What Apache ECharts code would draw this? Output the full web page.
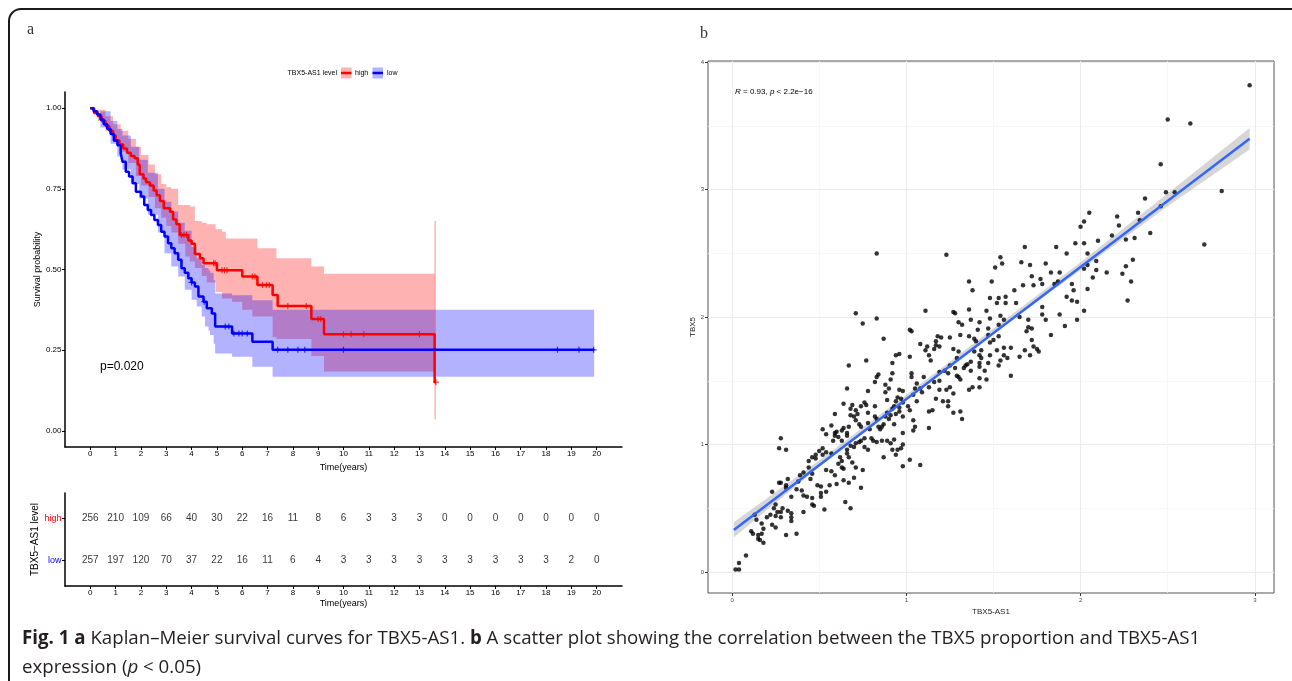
<!DOCTYPE html>
<html>
<head>
<meta charset="utf-8">
<script src="https://cdn.jsdelivr.net/npm/echarts@6/dist/echarts.min.js"></script>
<style>
  html, body { margin: 0; padding: 0; background: #fff; }
  #chart { width: 1292px; height: 681px; }
</style>
</head>
<body>
<div id="chart"></div>
<script>
// ---------- panel a: Kaplan-Meier ----------
var years = [0, 1, 2, 3, 4, 5, 6, 7, 8, 9, 10, 11, 12, 13, 14, 15, 16, 17, 18, 19, 20];
var riskHigh = [256, 210, 109, 66, 40, 30, 22, 16, 11, 8, 6, 3, 3, 3, 0, 0, 0, 0, 0, 0, 0];
var riskLow = [257, 197, 120, 70, 37, 22, 16, 11, 6, 4, 3, 3, 3, 3, 3, 3, 3, 3, 3, 2, 0];

var highT = [0, 0.15, 0.3, 0.45, 0.6, 0.75, 0.9, 1.0, 1.15, 1.3, 1.45, 1.6, 1.75, 1.87, 1.95, 2.1, 2.2, 2.35, 2.5, 2.62, 2.75, 2.9, 3.15, 3.27, 3.4, 3.53, 3.87, 4.0, 4.13, 4.33, 4.47, 5.0, 6.0, 6.6, 7.2, 7.4, 8.73, 9.23, 13.6, 13.65];
var highS = [1.0, 0.985, 0.975, 0.96, 0.945, 0.93, 0.915, 0.9, 0.887, 0.875, 0.862, 0.852, 0.845, 0.825, 0.795, 0.782, 0.77, 0.76, 0.745, 0.73, 0.712, 0.69, 0.679, 0.655, 0.64, 0.607, 0.59, 0.58, 0.548, 0.535, 0.519, 0.498, 0.478, 0.452, 0.421, 0.387, 0.347, 0.299, 0.151, 0.151];
var lowT = [0, 0.13, 0.27, 0.4, 0.53, 0.67, 0.8, 0.93, 1.07, 1.2, 1.27, 1.4, 1.53, 1.67, 1.8, 2.0, 2.13, 2.27, 2.4, 2.53, 2.67, 2.8, 2.93, 3.07, 3.2, 3.33, 3.47, 3.6, 3.73, 3.87, 4.0, 4.13, 4.27, 4.47, 4.6, 4.8, 4.93, 5.6, 6.4, 7.2, 19.9];
var lowS = [1.0, 0.99, 0.98, 0.965, 0.95, 0.935, 0.92, 0.9, 0.885, 0.86, 0.834, 0.803, 0.788, 0.767, 0.741, 0.726, 0.7, 0.684, 0.669, 0.653, 0.638, 0.617, 0.602, 0.581, 0.566, 0.55, 0.53, 0.504, 0.49, 0.473, 0.46, 0.447, 0.416, 0.4, 0.38, 0.364, 0.323, 0.302, 0.276, 0.251, 0.251];

var highCiT = [0, 0.3, 0.6, 0.9, 1.2, 1.5, 1.8, 2.0, 2.3, 2.55, 2.8, 3.0, 3.2, 3.47, 3.75, 3.93, 4.13, 4.4, 4.6, 4.95, 5.2, 5.35, 5.6, 6.0, 6.4, 6.6, 7.2, 7.35, 8.73, 9.23, 13.6];
var highCiLo = [1.0, 0.96, 0.93, 0.895, 0.865, 0.83, 0.79, 0.76, 0.725, 0.69, 0.66, 0.635, 0.615, 0.58, 0.54, 0.525, 0.505, 0.48, 0.46, 0.43, 0.41, 0.41, 0.4, 0.375, 0.354, 0.354, 0.29, 0.285, 0.232, 0.184, 0.184];
var highCiHi = [1.0, 0.995, 0.975, 0.95, 0.93, 0.905, 0.88, 0.855, 0.825, 0.795, 0.765, 0.755, 0.75, 0.7, 0.7, 0.695, 0.65, 0.645, 0.64, 0.625, 0.617, 0.596, 0.596, 0.596, 0.596, 0.566, 0.566, 0.535, 0.509, 0.487, 0.487];
var lowCiT = [0, 0.4, 0.8, 1.07, 1.27, 1.6, 1.93, 2.27, 2.67, 2.93, 3.2, 3.47, 3.73, 4.0, 4.2, 4.4, 4.53, 4.67, 4.73, 4.87, 4.93, 5.6, 6.0, 6.4, 7.2, 19.9];
var lowCiLo = [1.0, 0.94, 0.89, 0.85, 0.81, 0.765, 0.72, 0.67, 0.615, 0.55, 0.509, 0.478, 0.437, 0.406, 0.385, 0.354, 0.323, 0.31, 0.297, 0.27, 0.24, 0.23, 0.23, 0.199, 0.168, 0.168];
var lowCiHi = [1.0, 0.99, 0.96, 0.935, 0.915, 0.88, 0.84, 0.8, 0.75, 0.71, 0.68, 0.645, 0.62, 0.57, 0.535, 0.515, 0.505, 0.498, 0.49, 0.467, 0.426, 0.42, 0.42, 0.405, 0.375, 0.375];
var highTailT = [13.62, 13.62];
var highTailS = [0.035, 0.65];

var highCensT = [3.6, 3.7, 3.8, 4.87, 4.93, 5.2, 5.3, 5.4, 6.4, 6.5, 6.8, 6.95, 7.07, 7.8, 8.53, 9.0, 9.1, 10.0, 10.3, 10.8, 13.0, 13.65];
var highCensS = [0.607, 0.607, 0.607, 0.519, 0.519, 0.498, 0.498, 0.498, 0.478, 0.478, 0.452, 0.452, 0.452, 0.387, 0.387, 0.347, 0.347, 0.299, 0.299, 0.299, 0.299, 0.151];
var lowCensT = [4.0, 4.5, 5.33, 5.47, 5.67, 5.87, 6.0, 6.2, 7.4, 7.8, 8.2, 8.47, 10.0, 18.45, 19.3, 19.88];
var lowCensS = [0.46, 0.4, 0.323, 0.323, 0.302, 0.302, 0.302, 0.302, 0.251, 0.251, 0.251, 0.251, 0.251, 0.251, 0.251, 0.251];

// ---------- panel b: scatter TBX5 vs TBX5-AS1 ----------
var scatterPts = [
  [0.02,0.02],[0.04,0.02],[0.04,0.07],[0.08,0.13],
  [0.11,0.32],[0.12,0.30],[0.15,0.29],[0.15,0.26],[0.16,0.25],[0.18,0.23],[0.17,0.30],[0.18,0.34],
  [0.13,0.45],[0.14,0.41],[0.17,0.38],[0.20,0.43],[0.22,0.45],[0.23,0.37],[0.25,0.35],[0.25,0.44],[0.25,0.53],[0.24,0.50],[0.26,0.47],[0.28,0.47],[0.28,0.43],[0.29,0.50],
  [0.31,0.29],[0.37,0.30],[0.34,0.40],[0.34,0.43],[0.34,0.46],[0.32,0.48],
  [0.23,0.63],[0.27,0.70],[0.28,0.70],[0.31,0.68],[0.32,0.73],[0.31,0.66],[0.34,0.59],[0.37,0.65],[0.38,0.71],[0.39,0.76],[0.41,0.78],[0.40,0.64],[0.41,0.60],[0.43,0.59],[0.41,0.47],[0.46,0.53],[0.47,0.52],[0.53,0.49],[0.65,0.55],[0.68,0.50],
  [0.46,0.58],[0.51,0.59],[0.51,0.62],[0.54,0.63],[0.56,0.68],[0.51,0.67],[0.49,0.68],[0.45,0.73],[0.46,0.77],[0.44,0.82],[0.44,0.87],[0.46,0.90],[0.48,0.89],[0.48,0.92],[0.50,0.95],[0.52,0.92],[0.52,0.97],[0.54,0.94],[0.57,0.93],
  [0.54,0.80],[0.57,0.79],[0.59,0.76],[0.60,0.69],[0.64,0.72],[0.67,0.70],[0.70,0.74],[0.74,0.66],[0.75,0.80],[0.71,0.82],[0.69,0.86],[0.67,0.90],[0.66,0.93],[0.62,0.90],[0.61,0.85],[0.63,0.82],[0.64,0.81],[0.63,0.87],
  [0.66,0.96],[0.68,0.99],[0.70,0.98],[0.71,1.01],[0.73,1.02],[0.76,0.98],[0.78,0.96],[0.76,1.05],[0.74,1.03],[0.80,1.05],[0.81,1.03],[0.83,1.02],[0.86,1.03],[0.89,1.03],[0.91,1.01],[0.93,1.04],[0.95,0.96],[0.92,0.96],[0.97,0.97],[0.98,1.00],[0.94,0.92],[0.87,0.90],[0.98,0.83],[1.02,0.88],[1.08,0.84],
  [0.60,1.10],[0.61,1.06],[0.58,1.03],[0.59,1.09],[0.63,1.11],[0.64,1.13],[0.66,1.09],[0.67,1.14],[0.68,1.23],[0.70,1.22],[0.71,1.19],[0.73,1.16],[0.74,1.14],[0.72,1.24],[0.71,1.27],[0.74,1.30],[0.69,1.31],[0.68,1.28],[0.64,1.32],[0.59,1.24],[0.59,1.07],[0.63,1.03],[0.66,1.07],[0.52,1.12],[0.54,1.08],
  [0.28,1.05],[0.27,0.97],[0.31,0.96],[0.57,1.15],[0.66,1.44],
  [0.78,1.42],[0.76,1.33],[0.77,1.31],[0.78,1.25],[0.78,1.17],[0.79,1.12],[0.82,1.22],[0.82,1.30],[0.83,1.20],[0.84,1.14],[0.85,1.12],[0.86,1.14],[0.87,1.16],[0.88,1.22],[0.89,1.25],[0.90,1.20],[0.91,1.23],[0.92,1.28],[0.93,1.30],[0.94,1.34],[0.95,1.37],[0.97,1.36],[0.98,1.33],[0.96,1.29],[0.96,1.26],[0.98,1.22],[1.01,1.30],[1.02,1.27],[1.04,1.19],[1.05,1.14],[1.04,1.11],[0.98,1.09],[0.93,1.16],[0.94,1.24],
  [0.83,1.53],[0.84,1.55],[0.92,1.56],[0.82,1.49],[0.88,1.47],[0.88,1.41],[0.90,1.44],[0.91,1.51],[0.89,1.35],[0.96,1.43],[0.98,1.42],[1.03,1.56],[1.03,1.53],[1.06,1.48],[1.05,1.44],[1.04,1.39],[1.08,1.44],[1.06,1.34],
  [1.23,2.49],[1.68,2.55],[1.86,2.55],[1.97,2.58],[1.92,2.50],[1.54,2.47],[1.55,2.42],[1.51,2.39],[1.66,2.43],[1.71,2.41],[1.80,2.42],[1.83,2.35],[1.88,2.35],[1.72,2.32],[1.77,2.30],[1.78,2.26],[1.85,2.26],[1.87,2.28],[1.95,2.26],[1.96,2.21],[1.92,2.16],[1.95,2.13],[1.98,2.12],[1.98,1.98],
  [1.36,2.28],[1.38,2.21],[1.49,2.28],[1.62,2.21],[1.67,2.25],[1.73,2.25],[1.57,2.16],[1.53,2.15],[1.48,2.15],[1.52,2.11],[1.57,2.11],[1.63,2.11],[1.46,2.05],[1.36,2.06],[1.27,2.04],[1.28,2.03],[1.11,2.05],
  [1.48,1.99],[1.54,2.01],[1.56,1.98],[1.65,2.00],[1.70,1.98],[1.69,1.89],[1.70,1.92],[1.72,1.91],[1.78,2.08],[1.78,2.02],[1.80,1.98],[1.88,2.02],[1.91,1.93],[1.83,1.86],
  [1.47,1.91],[1.53,1.94],[1.42,1.96],[1.37,1.98],[1.30,1.96],[1.32,1.94],[1.41,1.90],[1.31,1.86],[1.36,1.85],[1.39,1.83],[1.40,1.81],[1.47,1.86],[1.53,1.85],[1.50,1.82],[1.48,1.80],[1.56,1.76],[1.52,1.74],[1.48,1.70],[1.42,1.70],[1.43,1.68],[1.43,1.74],[1.39,1.73],[1.37,1.65],[1.34,1.62],[1.29,1.68],[1.30,1.73],[1.27,1.75],
  [1.25,1.84],[1.20,1.84],[1.18,1.85],[1.17,1.81],[1.17,1.78],[1.19,1.77],[1.16,1.75],[1.13,1.70],[1.14,1.66],[1.12,1.77],[1.08,1.79],[1.11,1.74],[1.02,1.90],[1.03,1.89],[0.94,1.70],[0.96,1.71],[0.92,1.64],[0.87,1.83],[1.02,1.69],
  [1.60,1.76],[1.56,1.70],[1.54,1.66],[1.53,1.62],[1.58,1.68],[1.60,1.54],[1.65,1.69],[1.68,1.74],[1.71,1.70],[1.73,1.77],[1.75,1.75],[1.76,1.73],[1.72,1.82],
  [1.22,1.58],[1.19,1.57],[1.25,1.62],[1.28,1.60],[1.29,1.54],[1.31,1.51],[1.33,1.60],[1.35,1.63],[1.37,1.58],[1.42,1.61],[1.42,1.64],[1.45,1.58],[1.47,1.64],[1.38,1.45],[1.36,1.43],[1.42,1.45],[1.46,1.51],[1.42,1.52],[1.30,1.53],[1.24,1.56],
  [1.25,1.45],[1.23,1.43],[1.21,1.34],[1.24,1.30],[1.27,1.40],[1.27,1.25],[1.31,1.26],[1.32,1.20],[1.17,1.36],[1.16,1.49],[1.13,1.45],[1.10,1.53],[1.09,1.41],[1.13,1.26],[1.15,1.27],[1.13,1.13],[1.19,1.50],[1.19,1.43],[1.24,1.34],
  [2.97,3.82],[2.50,3.55],[2.63,3.52],[2.46,3.20],[2.81,2.99],[2.49,2.98],[2.54,2.98],[2.71,2.57],[2.37,2.93],[2.46,2.87],[2.33,2.82],[2.34,2.76],[2.40,2.66],[2.31,2.62],[2.26,2.61],[2.18,2.64],[2.21,2.79],[2.22,2.72],
  [2.05,2.82],[2.02,2.75],[2.00,2.71],[2.10,2.60],[2.02,2.58],[2.04,2.50],[2.30,2.45],[2.26,2.40],[2.24,2.34],[2.29,2.28],[2.27,2.13],[2.15,2.35],[2.09,2.44],[2.09,2.37],[2.07,2.31],[2.04,2.41],[2.02,2.38],[2.04,2.22],[2.02,2.05],
  [0.83,2.50],[0.71,2.03],[0.83,1.99],[0.75,1.95],[0.77,1.66],[0.67,1.62]
];
var fitX = [0.01, 2.97];
var fitY = [0.33, 3.40];
var bandX = [0.01, 0.5, 1.0, 1.5, 2.0, 2.5, 2.97];
var bandLo = [0.27, 0.825, 1.35, 1.87, 2.37, 2.87, 3.315];
var bandHi = [0.39, 0.875, 1.39, 1.91, 2.43, 2.97, 3.485];

var GG = "'Liberation Sans Narrow', 'Liberation Sans', Arial, sans-serif";
var SANS = "'Liberation Sans', Arial, sans-serif";
var CAP = "'Open Sans', 'Noto Sans', sans-serif";
var RED = '#FF0000', BLUE = '#0000FF';

function zip(a, b) { return a.map(function (v, i) { return [v, b[i]]; }); }

// filled confidence region between lo and hi (step or straight)
function bandSeries(xs, lo, hi, color, axis, step) {
  var rows = xs.map(function (x, i) { return [x, lo[i], hi[i]]; });
  return {
    type: 'custom', xAxisIndex: axis, yAxisIndex: axis, silent: true,
    data: rows, encode: { x: 0, y: [1, 2] },
    renderItem: function (params, api) {
      if (params.dataIndex !== 0) return null;
      var pts = [], n = rows.length, i;
      for (i = 0; i < n; i++) {
        pts.push(api.coord([rows[i][0], rows[i][2]]));
        if (step && i < n - 1) pts.push(api.coord([rows[i + 1][0], rows[i][2]]));
      }
      for (i = n - 1; i >= 0; i--) {
        if (step && i < n - 1) pts.push(api.coord([rows[i + 1][0], rows[i][1]]));
        pts.push(api.coord([rows[i][0], rows[i][1]]));
      }
      return { type: 'polygon', shape: { points: pts }, style: { fill: color } };
    }
  };
}

var plusSymbol = 'path://M4,0 H6 V4 H10 V6 H6 V10 H4 V6 H0 V4 H4 Z';

function kmAxisX(grid) {
  return {
    gridIndex: grid, type: 'value', min: -1, max: 21,
    axisLine: { show: true, onZero: false, lineStyle: { color: '#000', width: 1.5 } },
    axisTick: { show: true, length: 3, customValues: years, lineStyle: { color: '#000' } },
    axisLabel: { customValues: years, fontSize: 8, margin: 3, color: '#000', fontFamily: GG },
    splitLine: { show: false },
    name: 'Time(years)', nameLocation: 'middle', nameGap: 13,
    nameTextStyle: { fontSize: 9, color: '#000', fontFamily: GG }
  };
}

var chart = echarts.init(document.getElementById('chart'));

var option = {
  animation: false,
  backgroundColor: '#fff',
  grid: [
    { left: 65, top: 92, width: 557, height: 355 },
    { left: 65, top: 493, width: 557, height: 93 },
    { left: 708, top: 61, width: 566, height: 532, show: true, borderColor: '#555', borderWidth: 1, backgroundColor: 'transparent' }
  ],
  xAxis: [
    kmAxisX(0),
    kmAxisX(1),
    {
      gridIndex: 2, type: 'value', min: -0.138, max: 3.11,
      axisLine: { show: false, onZero: false },
      axisTick: { show: true, length: 3, customValues: [0, 1, 2, 3], lineStyle: { color: '#333' } },
      axisLabel: { customValues: [0, 1, 2, 3], fontSize: 6, margin: 4, color: '#4d4d4d', fontFamily: SANS },
      splitLine: { show: true, lineStyle: { color: '#ebebeb', width: 1 } },
      name: 'TBX5-AS1', nameLocation: 'middle', nameGap: 12,
      nameTextStyle: { fontSize: 8, color: '#222', fontFamily: SANS }
    },
    {
      gridIndex: 2, type: 'value', min: -0.138, max: 3.11,
      axisLine: { show: false, onZero: false },
      axisTick: { show: false, customValues: [0.5, 1.5, 2.5] },
      axisLabel: { show: false },
      splitLine: { show: true, lineStyle: { color: '#f3f3f3', width: 0.7 } }
    }
  ],
  yAxis: [
    {
      gridIndex: 0, type: 'value', min: -0.05, max: 1.05,
      axisLine: { show: true, onZero: false, lineStyle: { color: '#000', width: 1.5 } },
      axisTick: { show: true, length: 3, customValues: [0, 0.25, 0.5, 0.75, 1], lineStyle: { color: '#000' } },
      axisLabel: {
        customValues: [0, 0.25, 0.5, 0.75, 1], fontSize: 8, margin: 3.5, color: '#000', fontFamily: GG,
        formatter: function (v) { return Number(v).toFixed(2); }
      },
      splitLine: { show: false },
      name: 'Survival probability', nameLocation: 'middle', nameGap: 22,
      nameTextStyle: { fontSize: 9, color: '#000', fontFamily: GG }
    },
    {
      gridIndex: 1, type: 'value', min: 0.4, max: 2.6,
      axisLine: { show: true, onZero: false, lineStyle: { color: '#000', width: 1.5 } },
      axisTick: { show: true, length: 3, customValues: [1, 2], lineStyle: { color: '#000' } },
      axisLabel: {
        customValues: [1, 2], margin: 3.5,
        formatter: function (v) { return Number(v) === 2 ? '{h|high}' : '{l|low}'; },
        rich: {
          h: { color: RED, fontSize: 9, fontFamily: GG },
          l: { color: BLUE, fontSize: 9, fontFamily: GG }
        }
      },
      splitLine: { show: false },
      name: 'TBX5\u2212AS1 level', nameLocation: 'middle', nameGap: 21,
      nameTextStyle: { fontSize: 10, color: '#000', fontFamily: GG }
    },
    {
      gridIndex: 2, type: 'value', min: -0.165, max: 4.01,
      axisLine: { show: false, onZero: false },
      axisTick: { show: true, length: 3, customValues: [0, 1, 2, 3, 4], lineStyle: { color: '#333' } },
      axisLabel: { customValues: [0, 1, 2, 3, 4], fontSize: 6, margin: 4, color: '#4d4d4d', fontFamily: SANS },
      splitLine: { show: true, lineStyle: { color: '#ebebeb', width: 1 } },
      name: 'TBX5', nameLocation: 'middle', nameGap: 11,
      nameTextStyle: { fontSize: 8, color: '#222', fontFamily: SANS }
    },
    {
      gridIndex: 2, type: 'value', min: -0.165, max: 4.01,
      axisLine: { show: false, onZero: false },
      axisTick: { show: false, customValues: [0.5, 1.5, 2.5, 3.5] },
      axisLabel: { show: false },
      splitLine: { show: true, lineStyle: { color: '#f3f3f3', width: 0.7 } }
    }
  ],
  series: [
    // high group: ribbon, line, censor marks
    bandSeries(highCiT, highCiLo, highCiHi, 'rgba(255,0,0,0.3)', 0, true),
    {
      type: 'line', xAxisIndex: 0, yAxisIndex: 0, data: zip(highTailT, highTailS),
      symbol: 'none', silent: true, lineStyle: { color: 'rgba(255,0,0,0.3)', width: 1.5 }
    },
    {
      type: 'line', xAxisIndex: 0, yAxisIndex: 0, data: zip(highT, highS), step: 'end',
      symbol: 'none', silent: true, lineStyle: { color: RED, width: 2.5 }
    },
    {
      type: 'scatter', xAxisIndex: 0, yAxisIndex: 0, data: zip(highCensT, highCensS),
      symbol: plusSymbol, symbolSize: 6, silent: true, itemStyle: { color: RED }
    },
    // low group
    bandSeries(lowCiT, lowCiLo, lowCiHi, 'rgba(0,0,255,0.3)', 0, true),
    {
      type: 'line', xAxisIndex: 0, yAxisIndex: 0, data: zip(lowT, lowS), step: 'end',
      symbol: 'none', silent: true, lineStyle: { color: BLUE, width: 2.5 }
    },
    {
      type: 'scatter', xAxisIndex: 0, yAxisIndex: 0, data: zip(lowCensT, lowCensS),
      symbol: plusSymbol, symbolSize: 6, silent: true, itemStyle: { color: BLUE }
    },
    // number at risk table
    {
      type: 'scatter', xAxisIndex: 1, yAxisIndex: 1, silent: true,
      data: years.map(function (t, i) { return [t, 2, riskHigh[i]]; }),
      symbolSize: 1, itemStyle: { color: 'rgba(0,0,0,0)' },
      label: { show: true, position: 'inside', color: '#000', fontSize: 10, fontFamily: GG,
        formatter: function (p) { return p.value[2]; } }
    },
    {
      type: 'scatter', xAxisIndex: 1, yAxisIndex: 1, silent: true,
      data: years.map(function (t, i) { return [t, 1, riskLow[i]]; }),
      symbolSize: 1, itemStyle: { color: 'rgba(0,0,0,0)' },
      label: { show: true, position: 'inside', color: '#000', fontSize: 10, fontFamily: GG,
        formatter: function (p) { return p.value[2]; } }
    },
    // scatter panel
    {
      type: 'scatter', xAxisIndex: 2, yAxisIndex: 2, data: scatterPts,
      symbolSize: 4.5, silent: true, itemStyle: { color: '#000' }
    },
    bandSeries(bandX, bandLo, bandHi, 'rgba(153,153,153,0.4)', 2, false),
    {
      type: 'line', xAxisIndex: 2, yAxisIndex: 2, data: zip(fitX, fitY),
      symbol: 'none', silent: true, lineStyle: { color: '#3366FF', width: 2.5 }
    }
  ],
  graphic: [
    { type: 'rect', silent: true, z: 100,
      shape: { x: 9, y: 9, width: 1320, height: 700, r: 12 },
      style: { fill: 'none', stroke: '#1a1a1a', lineWidth: 2 } },
    { type: 'text', x: 27, y: 30, silent: true,
      style: { text: 'a', fontSize: 16, fontFamily: "'Liberation Serif', serif", fill: '#333', verticalAlign: 'middle' } },
    { type: 'text', x: 700, y: 34, silent: true,
      style: { text: 'b', fontSize: 16, fontFamily: "'Liberation Serif', serif", fill: '#333', verticalAlign: 'middle' } },
    // KM legend
    { type: 'text', x: 337, y: 73, silent: true,
      style: { text: 'TBX5-AS1 level', fontSize: 7, fontFamily: GG, fill: '#000', align: 'right', verticalAlign: 'middle' } },
    { type: 'rect', silent: true, shape: { x: 341, y: 67.5, width: 10.5, height: 11 }, style: { fill: 'rgba(255,0,0,0.3)' } },
    { type: 'line', silent: true, shape: { x1: 341, y1: 73, x2: 351.5, y2: 73 }, style: { stroke: RED, lineWidth: 2.5 } },
    { type: 'text', x: 355, y: 73, silent: true,
      style: { text: 'high', fontSize: 7, fontFamily: GG, fill: '#000', verticalAlign: 'middle' } },
    { type: 'rect', silent: true, shape: { x: 372.5, y: 67.5, width: 10.5, height: 11 }, style: { fill: 'rgba(0,0,255,0.3)' } },
    { type: 'line', silent: true, shape: { x1: 372.5, y1: 73, x2: 383, y2: 73 }, style: { stroke: BLUE, lineWidth: 2.5 } },
    { type: 'text', x: 387, y: 73, silent: true,
      style: { text: 'low', fontSize: 7, fontFamily: GG, fill: '#000', verticalAlign: 'middle' } },
    { type: 'text', x: 100, y: 367, silent: true,
      style: { text: 'p=0.020', fontSize: 12, fontFamily: SANS, fill: '#000', verticalAlign: 'middle' } },
    { type: 'text', x: 735, y: 92, silent: true,
      style: {
        text: '{i|R} = 0.93, {i|p} < 2.2e\u221216', fontSize: 8, fontFamily: SANS, fill: '#000', verticalAlign: 'middle',
        rich: { i: { fontStyle: 'italic', fontSize: 8, fontFamily: SANS, fill: '#000' } }
      } },
    // caption
    { type: 'text', x: 22, y: 639, silent: true,
      style: {
        text: '{b|Fig. 1 a} Kaplan\u2013Meier survival curves for TBX5-AS1. {b|b} A scatter plot showing the correlation between the TBX5 proportion and TBX5-AS1',
        fontSize: 18.7, fontFamily: CAP, fill: '#231f20', verticalAlign: 'middle',
        rich: { b: { fontWeight: 'bold', fontSize: 18.7, fontFamily: CAP, fill: '#231f20' } }
      } },
    { type: 'text', x: 22, y: 668, silent: true,
      style: {
        text: 'expression ({i|p} < 0.05)',
        fontSize: 18.7, fontFamily: CAP, fill: '#231f20', verticalAlign: 'middle',
        rich: { i: { fontStyle: 'italic', fontSize: 18.7, fontFamily: CAP, fill: '#231f20' } }
      } }
  ]
};

chart.setOption(option);
window.onresize = chart.resize;
</script>
</body>
</html>
